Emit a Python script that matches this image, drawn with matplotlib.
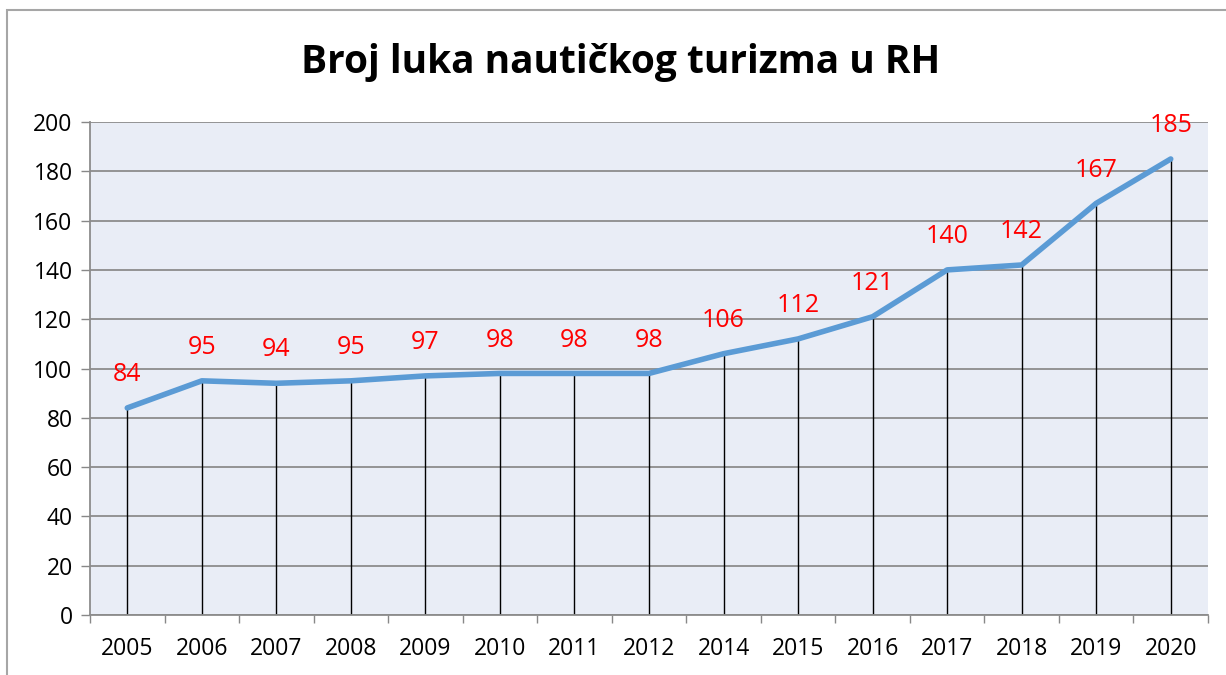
import matplotlib.pyplot as plt
from matplotlib.patches import Rectangle

# ---------------------------------
# Data
# ---------------------------------

years = ["2005", "2006", "2007", "2008", "2009", "2010", "2011", "2012",
         "2014", "2015", "2016", "2017", "2018", "2019", "2020"]

ports = [84, 95, 94, 95, 97, 98, 98, 98, 106, 112, 121, 140, 142, 167, 185]

y_ticks = [0, 20, 40, 60, 80, 100, 120, 140, 160, 180, 200]

plt.rcParams["font.family"] = ["Open Sans", "DejaVu Sans"]

# ---------------------------------
# Figure
# ---------------------------------

fig = plt.figure(figsize=(12.26, 6.75), dpi=100)

fig.patches.append(
    Rectangle((7 / 1226, -0.1), 1.2, 1 - 10 / 675 + 0.1,
              transform=fig.transFigure, fill=False,
              edgecolor="#A6A6A6", linewidth=1.5)
)

ax = fig.add_axes([90 / 1226, 60 / 675, 1118 / 1226, 493 / 675])
ax.set_facecolor("#E9EDF6")

x = list(range(len(years)))

ax.vlines(x, 0, ports, color="black", linewidth=1, zorder=2)

ax.plot(x, ports, color="#5B9BD5", linewidth=4,
        solid_capstyle="round", solid_joinstyle="round", zorder=3)

for xi, val in zip(x, ports):
    ax.annotate(str(val), (xi, val), xytext=(0, 24),
                textcoords="offset points", ha="center", va="center",
                color="red", fontsize=18)

ax.set_xlim(-0.5, len(years) - 0.5)
ax.set_ylim(0, 200)

ax.set_yticks(y_ticks)
ax.set_xticks(x)
ax.set_xticklabels(years)
ax.set_xticks([i - 0.5 for i in range(len(years) + 1)], minor=True)

ax.tick_params(axis="x", which="major", length=0, pad=16, labelsize=16.5)
ax.tick_params(axis="x", which="minor", length=6, color="#888888", width=1)
ax.tick_params(axis="y", length=6.5, color="#888888", width=1,
               pad=6, labelsize=16.5)

ax.yaxis.grid(True, color="#8C8C8C", linewidth=1.3)
ax.set_axisbelow(True)

for side in ["top", "right"]:
    ax.spines[side].set_visible(False)
for side in ["left", "bottom"]:
    ax.spines[side].set_color("#8C8C8C")
    ax.spines[side].set_linewidth(1.3)

fig.text(621 / 1226, 1 - 62 / 675, "Broj luka nautičkog turizma u RH",
         ha="center", va="center", fontsize=28, fontweight="bold")

fig.savefig("out.png", dpi=100)
